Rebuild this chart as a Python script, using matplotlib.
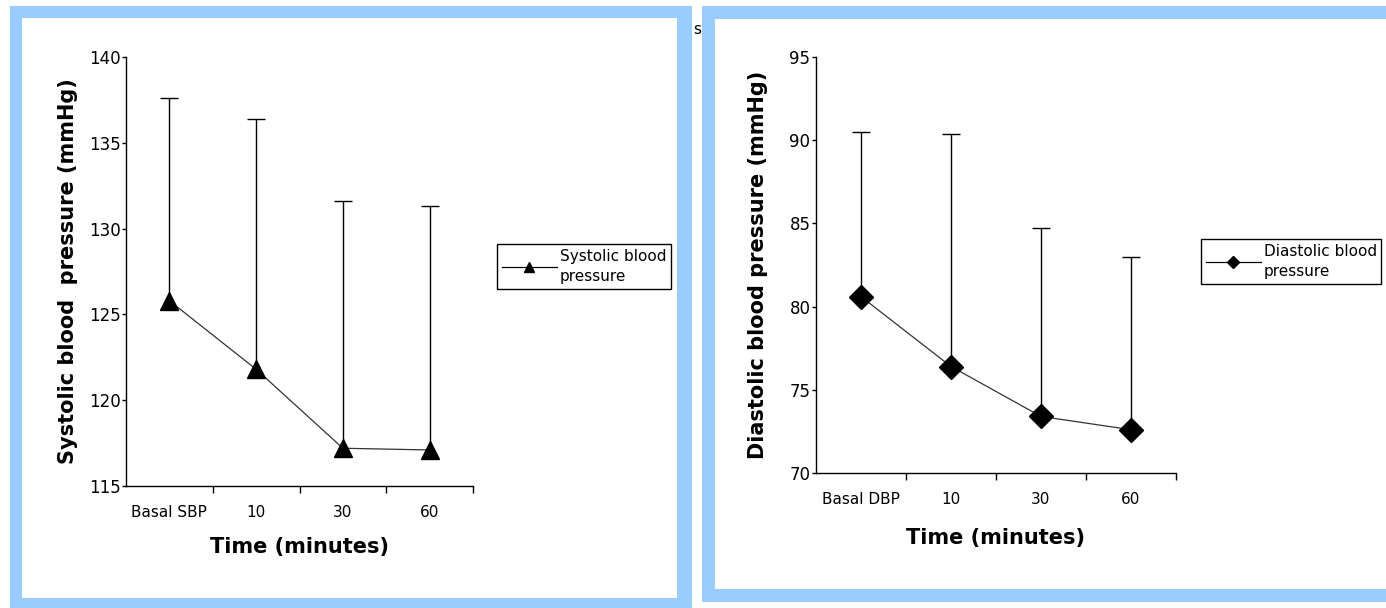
import matplotlib
matplotlib.use("Agg")
import matplotlib.pyplot as plt
from matplotlib.patches import Rectangle
from matplotlib.lines import Line2D

W, H = 1386, 608

sbp_categories = ["Basal SBP", "10", "30", "60"]
sbp_mean = [125.8, 121.8, 117.2, 117.1]
sbp_upper = [137.6, 136.4, 131.6, 131.3]

dbp_categories = ["Basal DBP", "10", "30", "60"]
dbp_mean = [80.6, 76.4, 73.4, 72.6]
dbp_upper = [90.5, 90.4, 84.7, 83.0]

BLUE = "#99CCFF"

fig = plt.figure(figsize=(W / 100, H / 100), dpi=100)
fig.patch.set_facecolor("white")


def px_rect(x0, y0, x1, y1, color=BLUE):
    fig.patches.append(Rectangle((x0 / W, 1 - y1 / H), (x1 - x0) / W, (y1 - y0) / H,
                                 transform=fig.transFigure, facecolor=color,
                                 edgecolor="none", zorder=0))


# left panel frame
px_rect(10, 6, 692, 18)
px_rect(10, 6, 22, 608)
px_rect(677, 6, 692, 608)
px_rect(10, 598, 692, 608)
# right panel frame
px_rect(702, 6, 1386, 19)
px_rect(702, 6, 715, 602)
px_rect(702, 589, 1386, 602)

fig.text(697 / W, 1 - 30 / H, "s", fontsize=11, ha="center", va="center")


def make_panel(rect_px, cats, mean, upper, ylim, yticks, marker, msize, ylabel,
               ylab_x, xlab_y, legend_px, legend_text):
    x0, y0, x1, y1 = rect_px
    ax = fig.add_axes([x0 / W, 1 - y1 / H, (x1 - x0) / W, (y1 - y0) / H])
    ax.set_facecolor("none")
    xs = list(range(len(cats)))
    ax.plot(xs, mean, color="#333333", lw=0.9, zorder=2)
    ax.vlines(xs, mean, upper, colors="black", lw=1.0, zorder=1)
    ax.plot(xs, upper, linestyle="none", marker="_", markersize=13,
            markeredgewidth=1.0, color="black", zorder=1)
    ax.plot(xs, mean, linestyle="none", marker=marker, markersize=msize,
            color="black", zorder=3)
    ax.set_xlim(-0.5, len(cats) - 0.5)
    ax.set_ylim(*ylim)
    ax.set_yticks(yticks)
    ax.set_yticklabels([str(t) for t in yticks], fontsize=12)
    ax.set_xticks(xs)
    ax.set_xticklabels(cats, fontsize=11)
    ax.set_xticks([i + 0.5 for i in xs], minor=True)
    ax.tick_params(axis="x", which="major", length=0, pad=14)
    ax.tick_params(axis="x", which="minor", length=5, width=1, direction="out")
    ax.tick_params(axis="y", which="major", length=3, width=1, pad=1, direction="out")
    for s in ["top", "right"]:
        ax.spines[s].set_visible(False)
    for s in ["left", "bottom"]:
        ax.spines[s].set_linewidth(1.0)
    ax.set_ylabel(ylabel, fontsize=15, fontweight="bold")
    ax.yaxis.set_label_coords(ylab_x, 0.5)
    ax.set_xlabel("Time (minutes)", fontsize=15, fontweight="bold")
    ax.xaxis.set_label_coords(0.5, xlab_y)
    lx0, ly0, lx1, ly1 = legend_px
    handle = Line2D([], [], color="black", lw=0.9, marker=marker,
                    markersize=msize * 0.5)
    leg = fig.legend([handle], [legend_text], loc="upper left",
                     bbox_to_anchor=(lx0 / W, 1 - ly0 / H),
                     bbox_transform=fig.transFigure,
                     fontsize=11, frameon=True, fancybox=False, edgecolor="black",
                     framealpha=1, borderpad=0.3, handlelength=3.6,
                     handletextpad=0.2, borderaxespad=0)
    leg.get_frame().set_linewidth(1.0)
    for t in leg.get_texts():
        t.set_linespacing(1.45)
    return ax


make_panel((126, 57, 473, 486), sbp_categories, sbp_mean, sbp_upper, (115, 140),
           [115, 120, 125, 130, 135, 140], "^", 13,
           "Systolic blood  pressure (mmHg)", -0.138, -0.119,
           (497, 244, 666, 293), "Systolic blood\npressure")

make_panel((816, 57, 1176, 473), dbp_categories, dbp_mean, dbp_upper, (70, 95),
           [70, 75, 80, 85, 90, 95], "D", 12,
           "Diastolic blood pressure (mmHg)", -0.133, -0.132,
           (1201, 239, 1378, 289), "Diastolic blood\npressure")

fig.savefig("out.png", dpi=100)
